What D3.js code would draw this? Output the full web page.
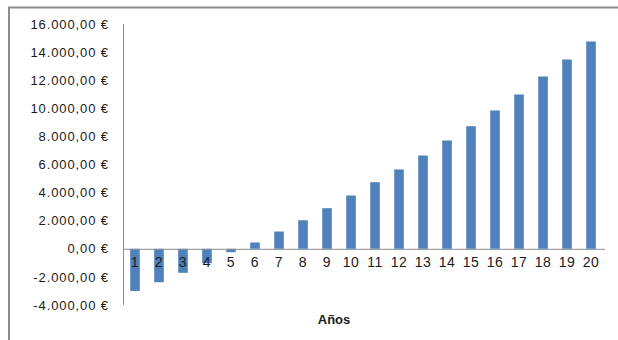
<!DOCTYPE html>
<html>
<head>
<meta charset="utf-8">
<script src="https://cdn.jsdelivr.net/npm/d3@7"></script>
<style>
  html, body { margin: 0; padding: 0; background: #fff; }
  svg { display: block; }
  text { font-family: "Liberation Sans", Arial, sans-serif; fill: #1a1a1a; }
</style>
</head>
<body>
<script>
// Yearly cumulative balance (€)
const years = d3.range(1, 21).map(String);
const balance = [-3000, -2380, -1710, -1025, -240, 450, 1230, 2030, 2890, 3795,
                 4740, 5645, 6640, 7710, 8725, 9845, 10980, 12265, 13475, 14755];
const yTicks = [-4000, -2000, 0, 2000, 4000, 6000, 8000, 10000, 12000, 14000, 16000];
const xTitle = "Años";

const W = 618, H = 340;
const svg = d3.select("body").append("svg").attr("width", W).attr("height", H);

// chart frame (top and left edges)
svg.append("path")
  .attr("d", `M9,${H} V7.5 H${W}`)
  .attr("fill", "none").attr("stroke", "#8c8c8c").attr("stroke-width", 2);

const x = d3.scaleBand().domain(years).range([123, 603]).paddingInner(0.6).paddingOuter(0.3);
const y = d3.scaleLinear().domain([-4000, 16000]).range([305, 24]);

const fmt = v => {
  const s = d3.format(",.2f")(v);
  return s.replace(/,/g, "#").replace(".", ",").replace(/#/g, ".").replace("−", "-") + " €";
};

// y axis labels
const yAxis = d3.axisLeft(y).tickValues(yTicks).tickSize(0).tickPadding(0).tickFormat(fmt);
const gy = svg.append("g").attr("transform", "translate(109,0)").call(yAxis);
gy.select(".domain").remove();
gy.selectAll("text").style("font-size", "13px").style("letter-spacing", "0.9px")
  .attr("fill", "#1a1a1a").attr("font-family", "Liberation Sans, Arial, sans-serif");

// y axis line
svg.append("line").attr("x1", 123.5).attr("x2", 123.5).attr("y1", y(16000)).attr("y2", y(-4000))
  .attr("stroke", "#8c8c8c").attr("stroke-width", 1);

// bars
svg.append("g").selectAll("rect").data(years).join("rect")
  .attr("x", d => x(d))
  .attr("width", x.bandwidth())
  .attr("y", (d, i) => y(Math.max(0, balance[i])))
  .attr("height", (d, i) => Math.abs(y(balance[i]) - y(0)))
  .attr("fill", "#4f81bd");

// zero baseline
svg.append("line").attr("x1", 123).attr("x2", 605).attr("y1", y(0) + 0.5).attr("y2", y(0) + 0.5)
  .attr("stroke", "#8c8c8c").attr("stroke-width", 1);

// category labels
const xAxis = d3.axisBottom(x).tickSize(0).tickPadding(0);
const gx = svg.append("g").attr("transform", `translate(0,${y(0) + 18})`).call(xAxis);
gx.select(".domain").remove();
gx.selectAll("text").attr("dy", "0").style("font-size", "14px").style("letter-spacing", "0.5px")
  .attr("fill", "#1a1a1a").attr("font-family", "Liberation Sans, Arial, sans-serif");

// axis title
svg.append("text").attr("x", 334).attr("y", 324).attr("text-anchor", "middle")
  .style("font-size", "13px").style("font-weight", "bold").text(xTitle);
</script>
</body>
</html>
